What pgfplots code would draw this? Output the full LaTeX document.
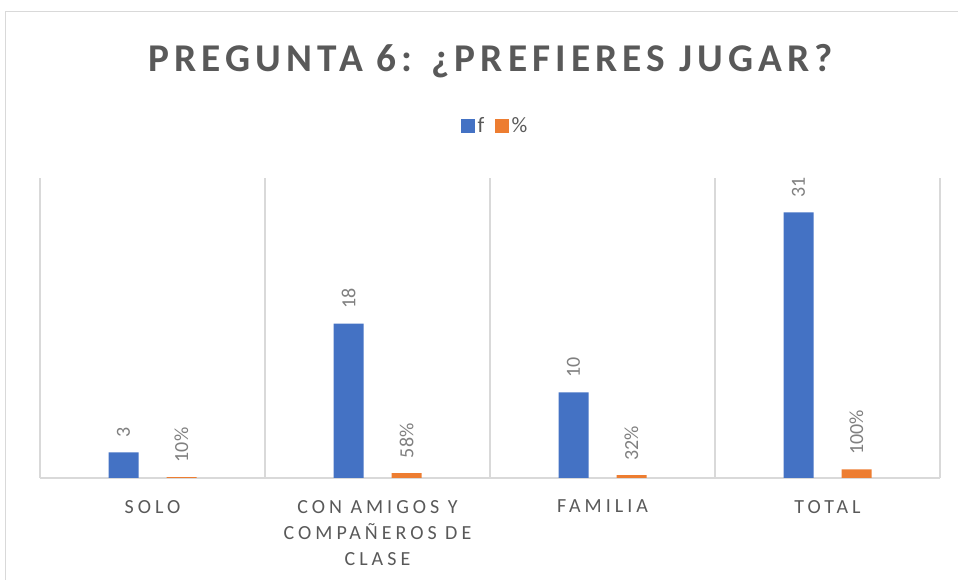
\documentclass[border=0pt]{standalone}
\usepackage{fontspec}
\setmainfont{Carlito}
\newfontfamily\titlefont{Carlito}[LetterSpace=13]
\newfontfamily\catfont{Carlito}[LetterSpace=20]
\usepackage{pgfplots}
\pgfplotsset{compat=1.18}
\usepackage{pgfplotstable}
\definecolor{cblue}{HTML}{4472C4}
\definecolor{corange}{HTML}{ED7D31}
\definecolor{gridgray}{HTML}{D9D9D9}
\definecolor{txtgray}{HTML}{595959}
\definecolor{lblgray}{HTML}{808080}

\pgfplotstableread{
x f p
0 3 0.10
1 18 0.58
2 10 0.32
3 31 1.00
}\data

\begin{document}
\begin{tikzpicture}
\useasboundingbox (0,0) rectangle (718.5pt,435pt);
\draw[gridgray, line width=0.75pt] (3.75pt,0) -- (3.75pt,426pt) -- (718.5pt,426pt);
\node[anchor=base, font=\titlefont\bfseries\fontsize{29.5}{36}\selectfont, text=txtgray, inner sep=0pt] at (368pt,381pt) {PREGUNTA 6: ¿PREFIERES JUGAR?};
\begin{axis}[
  at={(30pt,76.5pt)}, anchor=south west,
  scale only axis, width=675pt, height=225pt,
  xmin=-0.5, xmax=3.5, ymin=0, ymax=35,
  axis x line=bottom, axis y line=none,
  x axis line style={-, draw=gridgray, line width=1pt},
  xtick={0,1,2,3},
  xticklabels={SOLO, {CON AMIGOS Y\\COMPAÑEROS DE\\CLASE}, FAMILIA, TOTAL},
  xticklabel style={align=center, font=\catfont\fontsize{15}{19.5}\selectfont, text=txtgray, yshift=-13pt},
  major tick length=0pt, minor tick length=0pt,
  minor xtick={-0.5,0.5,1.5,2.5,3.5},
  xminorgrids, minor x grid style={draw=gridgray, line width=1pt},
  ytick=\empty,
  ybar=21pt, bar width=22.5pt,
  /pgf/number format/assume math mode=true,
  every node near coord/.append style={rotate=90, anchor=west, inner xsep=11pt, font=\fontsize{15}{18}\selectfont, text=lblgray},
  legend columns=2,
  legend style={at={(0.506,1.173)}, anchor=center, draw=none, fill=none,
    font=\fontsize{16.5}{18}\selectfont, text=txtgray,
    /tikz/every even column/.append style={column sep=6pt}},
  legend image code/.code={\fill[#1] (0pt,-5.25pt) rectangle (10.5pt,5.25pt);},
]
\addplot[fill=cblue, draw=none, nodes near coords] table[x=x, y=f] {\data};
\addplot[fill=corange, draw=none, point meta={y*100},
  nodes near coords={\pgfmathprintnumber[fixed,precision=0]{\pgfplotspointmeta}\%}] table[x=x, y=p] {\data};
\legend{f, \%}
\end{axis}
\end{tikzpicture}
\end{document}
